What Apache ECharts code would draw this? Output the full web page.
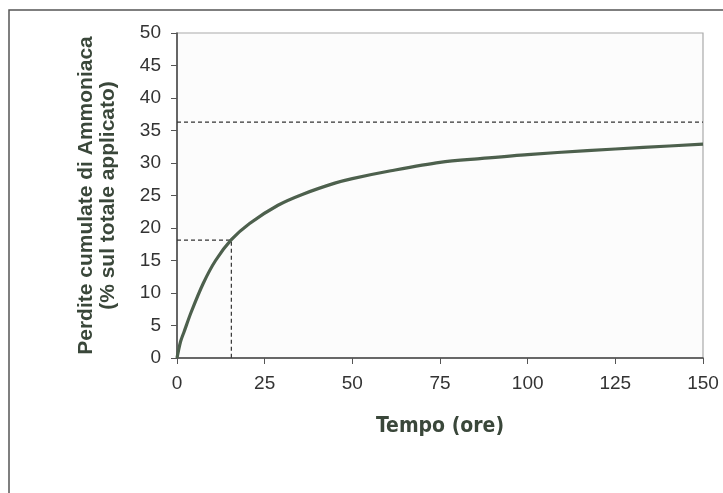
<!DOCTYPE html>
<html>
<head>
<meta charset="utf-8">
<script src="https://cdn.jsdelivr.net/npm/echarts@6/dist/echarts.min.js"></script>
<style>
html,body{margin:0;padding:0;background:#ffffff;}
#c{width:723px;height:493px;}
</style>
</head>
<body>
<div id="c"></div>
<script>
// Data
var timeHours = [0, 1, 2, 4, 7.5, 11, 15.5, 20.7, 28.8, 35.9, 45, 50, 61, 75, 87, 100, 117, 133, 150];
var lossPct   = [0, 2.5, 4, 7, 11.5, 15, 18.2, 20.7, 23.5, 25.2, 26.9, 27.6, 28.8, 30.1, 30.7, 31.3, 31.9, 32.4, 32.9];
var maxLoss = 36.3;
var halfLoss = 18.15;
var halfTime = 15.5;
var xTicks = [0, 25, 50, 75, 100, 125, 150];
var yTicks = [0, 5, 10, 15, 20, 25, 30, 35, 40, 45, 50];

var curve = timeHours.map(function(t, i){ return [t, lossPct[i]]; });
var dashStyle = {color:'#333333', width:1.2, type:[4,3]};

var chart = echarts.init(document.getElementById('c'), null, {renderer:'canvas'});
chart.setOption({
  backgroundColor:'#ffffff',
  animation:false,
  graphic:[{
    type:'rect', z:-10,
    shape:{x:9, y:10, width:900, height:700},
    style:{fill:'none', stroke:'#555555', lineWidth:1.5}
  }],
  grid:{left:177, right:20, top:33, bottom:135, show:true, backgroundColor:'#fcfcfc', borderColor:'#aaaaaa', borderWidth:1.2},
  xAxis:{
    type:'value', min:0, max:150, interval:25,
    name:'Tempo (ore)', nameLocation:'middle', nameGap:58,
    nameTextStyle:{fontFamily:'Liberation Sans Narrow, DejaVu Sans Condensed, Liberation Sans', fontWeight:'bold', fontSize:21, color:'#3a473a'},
    axisLine:{show:true, onZero:false, lineStyle:{color:'#444444', width:1.5}},
    axisTick:{show:true, length:6, lineStyle:{color:'#555555'}},
    axisLabel:{margin:16, fontFamily:'Liberation Sans, Arial, sans-serif', fontSize:19, color:'#333333',
      formatter:function(v){ return xTicks.indexOf(v) >= 0 ? String(v) : ''; }},
    splitLine:{show:false}
  },
  yAxis:{
    type:'value', min:0, max:50, interval:5,
    name:'Perdite cumulate di Ammoniaca\n(% sul totale applicato)', nameLocation:'middle', nameGap:58,
    nameTextStyle:{fontFamily:'Liberation Sans, Arial, sans-serif', fontWeight:'bold', fontSize:21, lineHeight:22, color:'#3a473a'},
    axisLine:{show:true, lineStyle:{color:'#444444', width:1.5}},
    axisTick:{show:true, length:6, lineStyle:{color:'#555555'}},
    axisLabel:{margin:16, fontFamily:'Liberation Sans, Arial, sans-serif', fontSize:19, color:'#333333',
      formatter:function(v){ return yTicks.indexOf(v) >= 0 ? String(v) : ''; }},
    splitLine:{show:false}
  },
  series:[
    {type:'line', data:[[0,maxLoss],[150,maxLoss]], symbol:'none', lineStyle:dashStyle, z:2},
    {type:'line', data:[[0,halfLoss],[halfTime,halfLoss],[halfTime,0]], symbol:'none', lineStyle:dashStyle, z:2},
    {type:'line', data:curve, symbol:'none', smooth:0.3,
      lineStyle:{color:'#4d604d', width:3.2}, z:3}
  ]
});
</script>
</body>
</html>
